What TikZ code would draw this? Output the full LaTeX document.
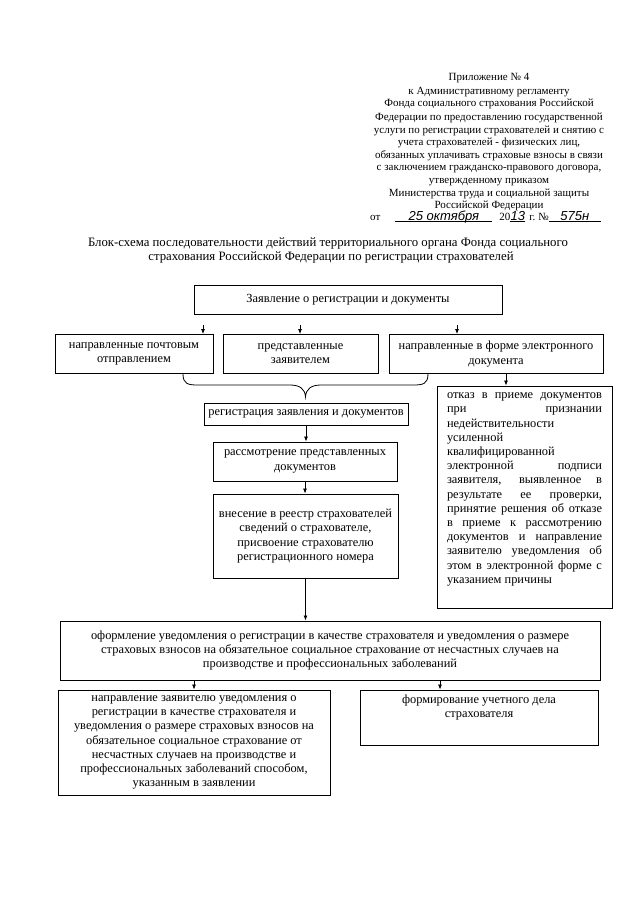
\documentclass[tikz,border=0pt]{standalone}
\usepackage{fontspec}
\setmainfont{Liberation Serif}
\newfontfamily\hwfam{Liberation Sans}
\usetikzlibrary{arrows.meta}
\newcommand\boxfont{\fontsize{12.4}{14.2}\selectfont}
\newcommand\ttlfont{\fontsize{12.8}{14.2}\selectfont}
\newcommand\hdrfont{\fontsize{11}{12.7}\selectfont}
\newcommand\hwfont{\hwfam\itshape\fontsize{13}{14}\selectfont}
\newcommand\fillin[2]{\rlap{\rule[-1.5pt]{#1}{0.5pt}}\makebox[#1]{\hwfont #2}}
\newlength\otkw
\setlength{\otkw}{155pt}
\newcommand\otkj[1]{\makebox[\otkw][s]{#1}}
\newcommand\otkl[1]{\makebox[\otkw][l]{#1}}
\begin{document}
\begin{tikzpicture}[x=1pt,y=-1pt,
  box/.style={draw, line width=0.9pt, inner sep=0pt, align=center, font=\boxfont},
  arr/.style={-{Latex[length=5pt,width=4pt]}, line width=0.8pt},
  hdr/.style={anchor=base, inner sep=0pt, font=\hdrfont},
  ttl/.style={anchor=base, inner sep=0pt, font=\ttlfont},
  txt/.style={inner sep=0pt, align=left, font=\boxfont}]
\fill[white] (0,0) rectangle (640,905);
\useasboundingbox (0,0) rectangle (640,905);
% header
\node[hdr] (h1) at (489,80) {Приложение № 4};
\node[hdr] (h2) at (489,94) {к Административному регламенту};
\node[hdr] (h3) at (489,106) {Фонда социального страхования Российской};
\node[hdr] (h4) at (489,120) {Федерации по предоставлению государственной};
\node[hdr] (h5) at (489,133) {услуги  по регистрации страхователей и снятию с};
\node[hdr] (h6) at (489,145) {учета страхователей - физических лиц,};
\node[hdr] (h7) at (489,158) {обязанных уплачивать страховые взносы в связи};
\node[hdr] (h8) at (489,170) {с заключением гражданско-правового договора,};
\node[hdr] (h9) at (489,183) {утвержденному приказом};
\node[hdr] (h10) at (489,196) {Министерства труда и социальной защиты};
\node[hdr] (h11) at (489,208) {Российской Федерации};
\node[hdr, anchor=base west] (h12) at (370,220) {от\hspace{15pt}\fillin{97pt}{25 октября}\hspace{7pt}20\fillin{15pt}{13}\hspace{4pt}г.\hspace{3pt}№\fillin{52pt}{575н}};
% title
\node[ttl] (t1) at (328,246) {Блок-схема последовательности действий территориального органа Фонда социального};
\node[ttl] (t2) at (331,260) {страхования Российской Федерации по регистрации страхователей};
% boxes
\node[box, minimum width=308pt, minimum height=29pt] (top) at (348,299.5) {Заявление о регистрации и документы};
\node[box, minimum width=158pt, minimum height=39pt] (A) at (134,354) {направленные почтовым\\отправлением};
\node[box, minimum width=155pt, minimum height=39pt] (B) at (300.5,354) {представленные\\заявителем};
\node[box, minimum width=214pt, minimum height=39pt] (C) at (496,354) {направленные в форме электронного\\документа};
\node[box, minimum width=175pt, minimum height=222pt] (otk) at (524.5,497) {};
\node[txt, anchor=north] (otkt) at ([yshift=-3pt]otk.north) {\strut\otkj{отказ в приеме документов}\\
\otkj{при признании}\\
\otkl{недействительности}\\
\otkl{усиленной}\\
\otkl{квалифицированной}\\
\otkj{электронной подписи}\\
\otkj{заявителя, выявленное в}\\
\otkj{результате ее проверки,}\\
\otkj{принятие решения об отказе}\\
\otkj{в приеме к рассмотрению}\\
\otkj{документов и направление}\\
\otkj{заявителю уведомления об}\\
\otkj{этом в электронной форме с}\\
\otkl{указанием причины}};
\node[box, minimum width=204pt, minimum height=22pt] (reg) at (306,414) {регистрация заявления и документов};
\node[box, minimum width=184pt, minimum height=39pt] (ras) at (305,461.5) {рассмотрение представленных\\документов};
\node[box, minimum width=185pt, minimum height=84pt] (vn) at (305.5,536) {внесение в реестр страхователей\\сведений о страхователе,\\присвоение страхователю\\регистрационного номера};
\node[box, minimum width=540pt, minimum height=59pt] (of) at (330,650.5) {оформление уведомления о регистрации в качестве страхователя и уведомления о размере\\страховых взносов на обязательное социальное страхование от несчастных случаев на\\производстве и профессиональных заболеваний};
\node[box, minimum width=272pt, minimum height=105pt] (bl) at (194,742.5) {направление заявителю уведомления о\\регистрации в качестве страхователя и\\уведомления о размере страховых взносов на\\обязательное социальное страхование от\\несчастных случаев на производстве и\\профессиональных заболеваний способом,\\указанным в заявлении};
\node[box, minimum width=238pt, minimum height=55pt] (br) at (479,717.5) {};
\node[txt, align=center, anchor=north] (brt) at ([yshift=-4pt]br.north) {\strut формирование учетного дела\\страхователя};
% arrows
\coordinate (s1) at (203,325);
\coordinate (s2) at (300,325);
\coordinate (s3) at (457,325);
\draw[arr] (s1) -- (s1 |- A.north);
\draw[arr] (s2) -- (s2 |- B.north);
\draw[arr] (s3) -- (s3 |- C.north);
\coordinate (sc) at (506,0);
\draw[arr] (C.south -| sc) -- (otk.north -| sc);
\draw[arr] (reg.south) -- (reg.south |- ras.north);
\draw[arr] (ras.south) -- (ras.south |- vn.north);
\draw[arr] (vn.south) -- (vn.south |- of.north);
\draw[arr] (bl.north |- of.south) -- (bl.north);
\coordinate (sr) at (440,0);
\draw[arr] (of.south -| sr) -- (br.north -| sr);
% brace
\draw[line width=0.8pt] (183,374) .. controls (183,384) and (188,385) .. (198,385) -- (290,385) .. controls (300,385) and (305,389) .. (305.5,397) .. controls (306,389) and (311,385) .. (321,385) -- (413,385) .. controls (423,385) and (428,384) .. (428,374);
\end{tikzpicture}
\end{document}
